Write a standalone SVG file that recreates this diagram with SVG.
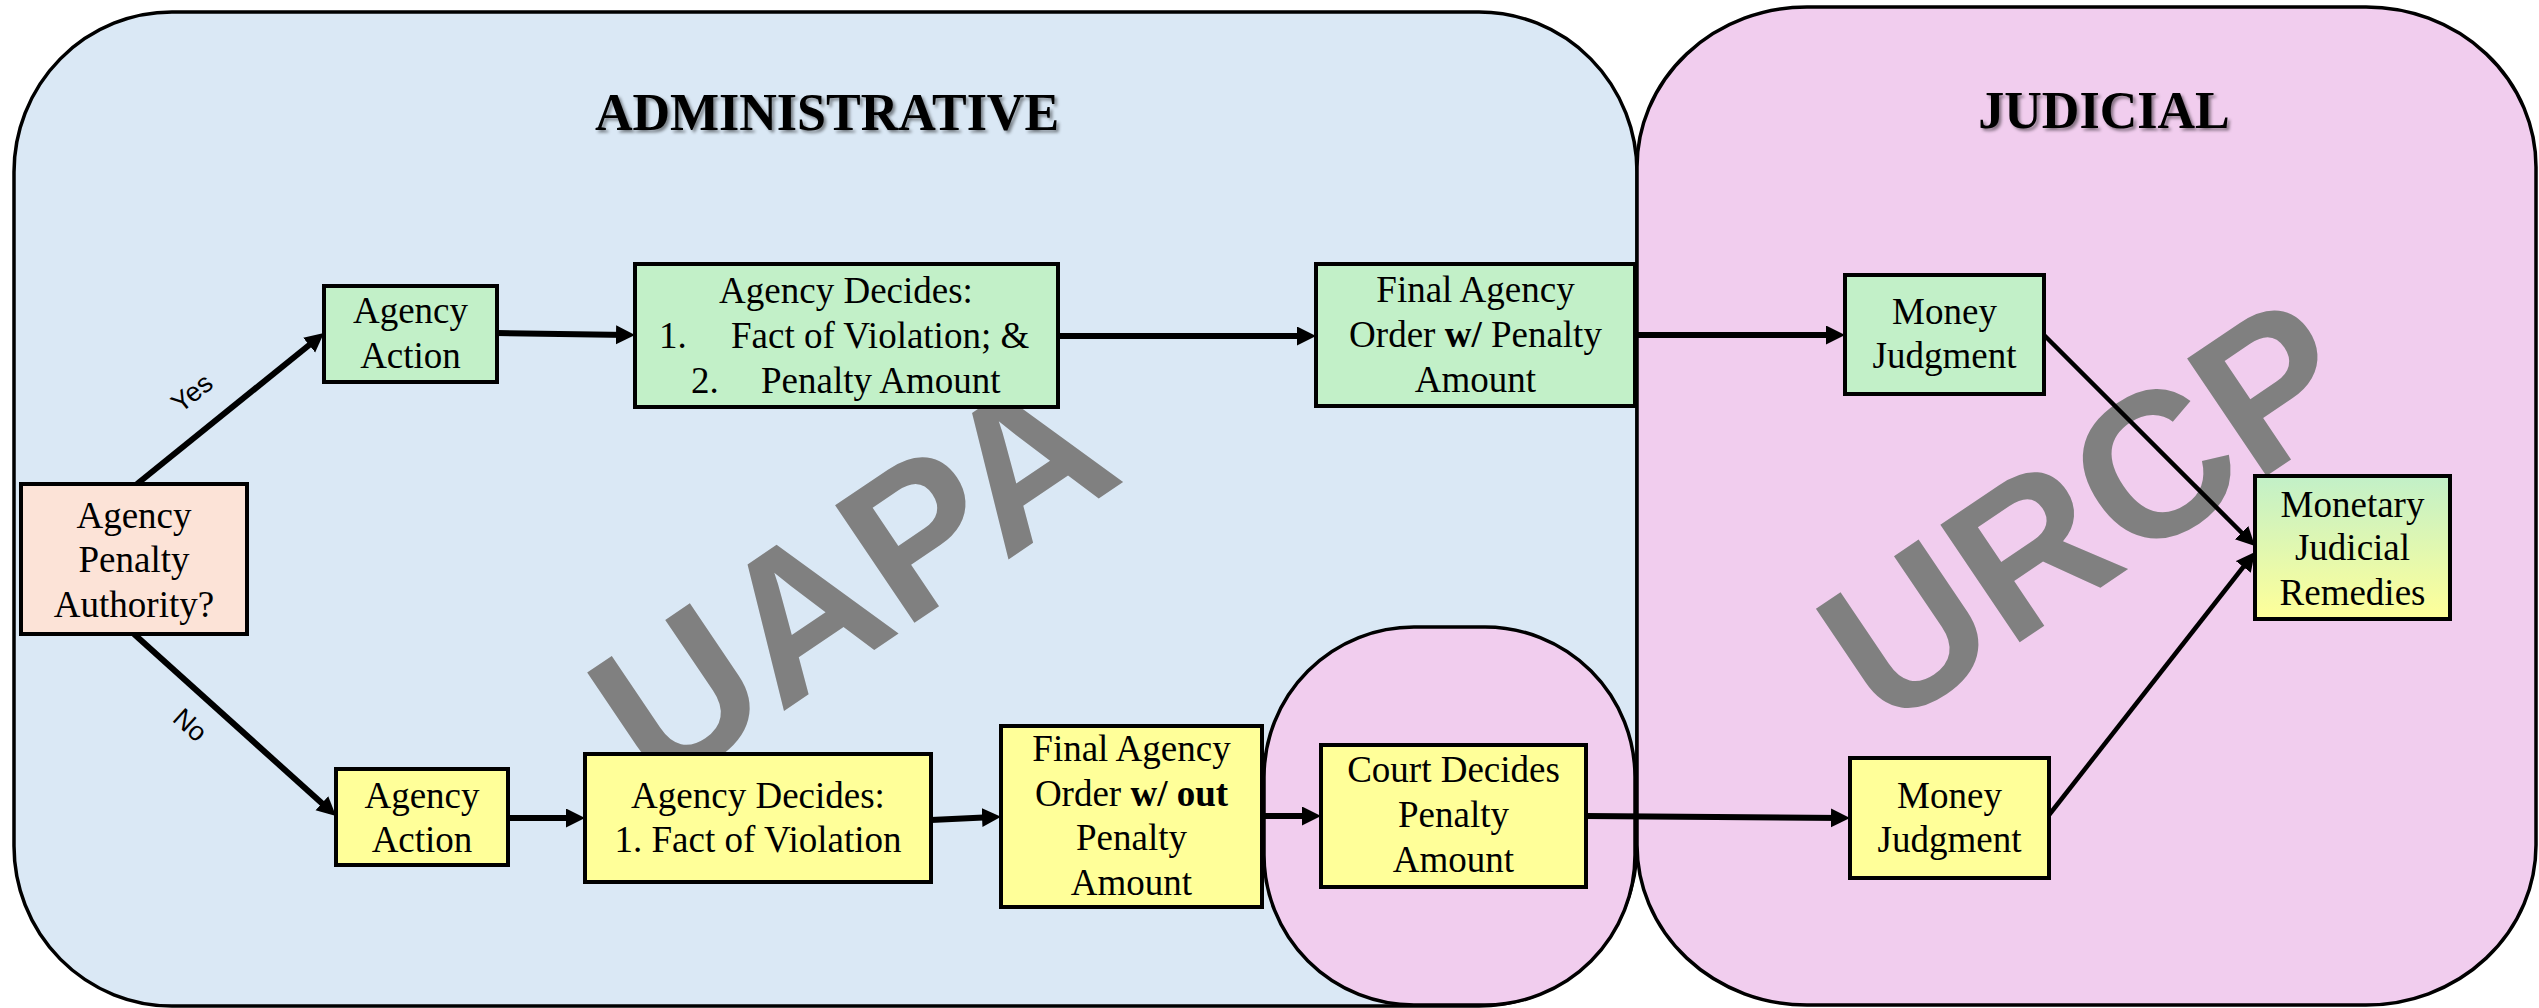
<svg xmlns="http://www.w3.org/2000/svg" width="2539" height="1008" viewBox="0 0 2539 1008">
<defs>
<style>
.cont{stroke:#000;stroke-width:3.5}
.node rect{stroke:#000;stroke-width:4}
.g{fill:#C2F0C8}.y{fill:#FFFF99}.p{fill:#FCE3D7}
.t{font-family:"Liberation Serif","Times New Roman",serif;font-size:37px;fill:#000;text-anchor:middle}
.ts{font-family:"Liberation Serif","Times New Roman",serif;font-size:37px;fill:#000}
.title{font-family:"Liberation Serif","Times New Roman",serif;font-size:52px;font-weight:bold;fill:#000;text-anchor:middle;filter:url(#sh)}
.wm{font-family:"Liberation Sans",Arial,sans-serif;font-size:206px;font-weight:bold;fill:#808080;text-anchor:middle}
.lbl{font-family:"Liberation Sans",Arial,sans-serif;font-size:27px;fill:#000;text-anchor:middle;dominant-baseline:central}
.conn line{stroke:#000;stroke-width:6;marker-end:url(#ah)}
.conn line.thin{stroke-width:4.5}
</style>
<marker id="ah" markerUnits="userSpaceOnUse" markerWidth="22" markerHeight="22" refX="12" refY="9.5" orient="auto">
<path d="M0,0 L19,9.5 L0,19 z" fill="#000"/>
</marker>
<linearGradient id="gy" x1="0" y1="0" x2="0" y2="1">
<stop offset="0" stop-color="#C2F0C8"/>
<stop offset="1" stop-color="#FFFF99"/>
</linearGradient>
<filter id="sh" x="-10%" y="-30%" width="120%" height="160%">
<feDropShadow dx="2.5" dy="2.5" stdDeviation="1.5" flood-color="#000" flood-opacity="0.45"/>
</filter>
</defs>
<rect x="0" y="0" width="2539" height="1008" fill="#fff"/>

<g id="containers">
<rect id="administrative" class="cont" x="14" y="12" width="1623" height="994" rx="158" ry="160" fill="#DAE8F5"/>
<rect id="judicial" class="cont" x="1637" y="7" width="899" height="998" rx="170" ry="160" fill="#F1CDEE"/>
<rect id="court-area" class="cont" x="1264" y="627" width="371" height="378" rx="150" ry="150" fill="#F1CDEE"/>
<text class="title" x="827" y="130">ADMINISTRATIVE</text>
<text class="title" x="2104" y="128">JUDICIAL</text>
</g>

<g id="watermarks">
<text class="wm" x="892" y="638" transform="rotate(-34 892 638)">UAPA</text>
<text class="wm" x="2127" y="570" transform="rotate(-34 2127 570)">URCP</text>
</g>

<g id="connectors" class="conn">
<line x1="137" y1="484" x2="318.5" y2="337.5"/>
<line x1="134" y1="634" x2="330.8" y2="811.3"/>
<line x1="497" y1="333" x2="628" y2="335"/>
<line x1="1058" y1="336" x2="1309" y2="336"/>
<line x1="1637" y1="335" x2="1838" y2="335"/>
<line class="thin" x1="2044" y1="335" x2="2250" y2="541"/>
<line x1="508" y1="818" x2="578" y2="818"/>
<line x1="931" y1="820" x2="994" y2="817"/>
<line x1="1262" y1="816" x2="1314" y2="816"/>
<line x1="1586" y1="816" x2="1843" y2="818"/>
<line class="thin" x1="2049" y1="815" x2="2250.7" y2="557.5"/>
<text class="lbl" x="192" y="393" transform="rotate(-38.7 192 393)">Yes</text>
<text class="lbl" x="190" y="725" transform="rotate(42 190 725)">No</text>
</g>

<g id="n-penalty-authority" class="node">
<rect class="p" x="21" y="484" width="226" height="150"/>
<text class="t" x="134" y="528">Agency</text>
<text class="t" x="134" y="572">Penalty</text>
<text class="t" x="134" y="617">Authority?</text>
</g>

<g id="n-action-yes" class="node">
<rect class="g" x="324" y="286" width="173" height="96"/>
<text class="t" x="410.5" y="323">Agency</text>
<text class="t" x="410.5" y="368">Action</text>
</g>

<g id="n-decides-yes" class="node">
<rect class="g" x="635" y="264" width="423" height="143"/>
<text class="t" x="846" y="303">Agency Decides:</text>
<text class="ts" x="659" y="348">1.</text>
<text class="ts" x="731" y="348">Fact of Violation; &amp;</text>
<text class="ts" x="691" y="393">2.</text>
<text class="ts" x="761" y="393">Penalty Amount</text>
</g>

<g id="n-final-order-with" class="node">
<rect class="g" x="1316" y="264" width="319" height="142"/>
<text class="t" x="1475.5" y="302">Final Agency</text>
<text class="t" x="1475.5" y="347">Order <tspan font-weight="bold">w/</tspan> Penalty</text>
<text class="t" x="1475.5" y="392">Amount</text>
</g>

<g id="n-money-judgment-top" class="node">
<rect class="g" x="1845" y="275" width="199" height="119"/>
<text class="t" x="1944.5" y="324">Money</text>
<text class="t" x="1944.5" y="368">Judgment</text>
</g>

<g id="n-monetary-remedies" class="node">
<rect fill="url(#gy)" x="2255" y="476" width="195" height="143"/>
<text class="t" x="2352.5" y="517">Monetary</text>
<text class="t" x="2352.5" y="560">Judicial</text>
<text class="t" x="2352.5" y="605">Remedies</text>
</g>

<g id="n-action-no" class="node">
<rect class="y" x="336" y="769" width="172" height="96"/>
<text class="t" x="422" y="808">Agency</text>
<text class="t" x="422" y="852">Action</text>
</g>

<g id="n-decides-no" class="node">
<rect class="y" x="585" y="754" width="346" height="128"/>
<text class="t" x="758" y="808">Agency Decides:</text>
<text class="t" x="758" y="852">1. Fact of Violation</text>
</g>

<g id="n-final-order-without" class="node">
<rect class="y" x="1001" y="726" width="261" height="181"/>
<text class="t" x="1131.5" y="761">Final Agency</text>
<text class="t" x="1131.5" y="806">Order <tspan font-weight="bold">w/ out</tspan></text>
<text class="t" x="1131.5" y="850">Penalty</text>
<text class="t" x="1131.5" y="895">Amount</text>
</g>

<g id="n-court-decides" class="node">
<rect class="y" x="1321" y="745" width="265" height="142"/>
<text class="t" x="1453.5" y="782">Court Decides</text>
<text class="t" x="1453.5" y="827">Penalty</text>
<text class="t" x="1453.5" y="872">Amount</text>
</g>

<g id="n-money-judgment-bottom" class="node">
<rect class="y" x="1850" y="758" width="199" height="120"/>
<text class="t" x="1949.5" y="808">Money</text>
<text class="t" x="1949.5" y="852">Judgment</text>
</g>
</svg>
